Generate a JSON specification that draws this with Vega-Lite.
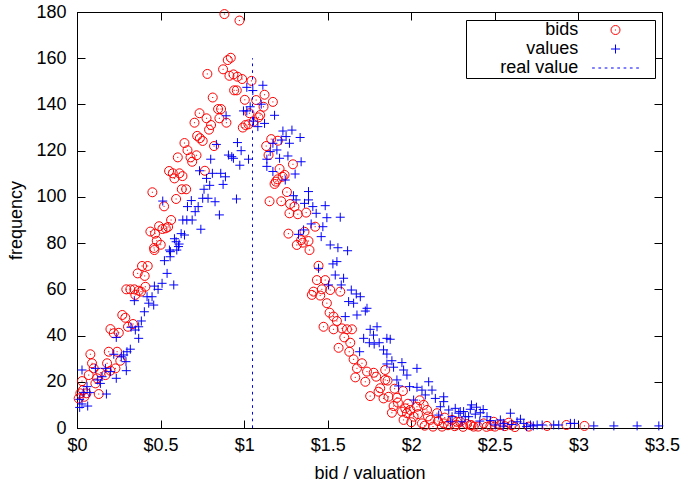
{
  "$schema": "https://vega.github.io/schema/vega-lite/v6.json",
  "width": 585,
  "height": 416,
  "autosize": {"type": "none"},
  "padding": {"left": 77, "top": 12, "right": 20, "bottom": 58},
  "config": {
    "view": {"stroke": "black", "strokeWidth": 1},
    "font": "Liberation Sans",
    "axis": {
      "grid": false,
      "domainColor": "black",
      "tickColor": "black",
      "labelColor": "black",
      "titleColor": "black",
      "labelFont": "Liberation Sans",
      "titleFont": "Liberation Sans",
      "labelFontSize": 18,
      "titleFontSize": 18,
      "titleFontWeight": "normal",
      "tickSize": -8,
      "labelFlush": false,
      "labelOverlap": false,
      "labelBound": false
    }
  },
  "datasets": {
    "bids": [
      {"x":0.882,"y":179.1},{"x":0.972,"y":176.3},{"x":0.920,"y":160.2},{"x":0.902,"y":159.2},{"x":0.874,"y":155.2},{"x":0.780,"y":153.2},{"x":0.912,"y":152.4},{"x":0.936,"y":153},{"x":0.960,"y":152},{"x":0.988,"y":151},{"x":0.940,"y":146.1},{"x":0.956,"y":146.1},{"x":0.812,"y":143},{"x":1.004,"y":142},{"x":0.844,"y":138},{"x":0.862,"y":138},{"x":0.733,"y":136.2},{"x":0.775,"y":134},{"x":0.852,"y":134},{"x":0.703,"y":132.1},{"x":0.894,"y":132.1},{"x":0.802,"y":131.1},{"x":0.790,"y":129.1},{"x":1.008,"y":131.1},{"x":0.992,"y":130},{"x":0.719,"y":126.4},{"x":0.735,"y":125.4},{"x":0.752,"y":124.2},{"x":0.643,"y":123.3},{"x":0.820,"y":122},{"x":0.661,"y":120.2},{"x":0.715,"y":118},{"x":0.679,"y":117.1},{"x":0.603,"y":117.1},{"x":0.689,"y":115.2},{"x":0.765,"y":111.3},{"x":0.551,"y":111.2},{"x":0.573,"y":110.2},{"x":0.613,"y":110.2},{"x":0.583,"y":108},{"x":0.631,"y":109},{"x":0.627,"y":103.3},{"x":0.653,"y":103.3},{"x":0.451,"y":102},{"x":0.593,"y":99.1},{"x":0.521,"y":95.9},{"x":0.563,"y":90},{"x":0.491,"y":87.3},{"x":0.511,"y":86.1},{"x":0.531,"y":86.4},{"x":0.545,"y":87},{"x":0.439,"y":85},{"x":0.467,"y":84.1},{"x":0.477,"y":81},{"x":0.501,"y":79.3},{"x":0.461,"y":77.9},
      {"x":1.044,"y":150.2},{"x":1.122,"y":144.2},{"x":1.072,"y":141.9},{"x":1.172,"y":141.1},{"x":1.116,"y":139},{"x":1.032,"y":136.2},{"x":1.096,"y":135.4},{"x":1.086,"y":134.4},{"x":1.056,"y":132.5},{"x":1.026,"y":131.4},{"x":1.162,"y":125},{"x":1.202,"y":124.3},{"x":1.132,"y":122},{"x":1.146,"y":118.1},{"x":1.292,"y":114.1},{"x":1.212,"y":112.1},{"x":1.242,"y":109.5},{"x":1.230,"y":108.7},{"x":1.200,"y":107.6},{"x":1.190,"y":106.6},{"x":1.182,"y":105.6},{"x":1.256,"y":102.1},{"x":1.152,"y":98.1},{"x":1.222,"y":98.1},{"x":1.275,"y":96.9},{"x":1.301,"y":95.8},{"x":1.271,"y":92.9},{"x":1.321,"y":92.5},{"x":1.371,"y":93.2},{"x":1.425,"y":87.1},{"x":1.265,"y":84.1},{"x":1.361,"y":84.9},{"x":1.341,"y":81.3},{"x":1.385,"y":80.9},{"x":1.351,"y":80.2},{"x":1.315,"y":79.2},{"x":1.391,"y":77},
      {"x":1.445,"y":70.2},{"x":1.435,"y":64},{"x":1.485,"y":64},{"x":1.465,"y":60},{"x":1.515,"y":59.7},{"x":1.575,"y":59},{"x":1.415,"y":59},{"x":1.405,"y":57.6},{"x":1.455,"y":57.3},{"x":1.495,"y":54},{"x":1.511,"y":49.9},{"x":1.535,"y":48.2},{"x":1.555,"y":46.3},{"x":1.475,"y":43.8},{"x":1.535,"y":42.7},{"x":1.585,"y":43.1},{"x":1.615,"y":42.7},{"x":1.645,"y":42.7},{"x":1.599,"y":39.2},{"x":1.635,"y":36.9},{"x":1.565,"y":34.7},{"x":1.629,"y":33},{"x":1.655,"y":29.7},{"x":1.705,"y":28},{"x":1.675,"y":25.8},{"x":1.735,"y":24.4},{"x":1.775,"y":23.9},{"x":1.844,"y":25.1},{"x":1.665,"y":21.9},{"x":1.725,"y":20},{"x":1.790,"y":22.2},{"x":1.858,"y":20.5},{"x":1.754,"y":13.8},{"x":1.804,"y":15.7},{"x":1.834,"y":12.8},{"x":1.864,"y":13.5},{"x":1.914,"y":13.1},{"x":1.894,"y":9.5},{"x":1.884,"y":6.6},{"x":1.944,"y":7.1},{"x":1.964,"y":8.5},{"x":1.994,"y":7.8},{"x":2.034,"y":9.2},{"x":2.074,"y":10},{"x":2.094,"y":7.8},{"x":2.014,"y":4.9},{"x":2.064,"y":2},{"x":2.114,"y":3.5},{"x":2.154,"y":6.4},{"x":2.194,"y":2},{"x":2.244,"y":3.5},{"x":2.293,"y":2.7},{"x":2.333,"y":1.7},{"x":1.954,"y":3.5},{"x":1.974,"y":6.4},{"x":2.130,"y":0.6},{"x":2.184,"y":0.6},
      {"x":1.92,"y":11},{"x":1.98,"y":10.5},{"x":2.04,"y":6},{"x":2.1,"y":5},{"x":2.16,"y":3},{"x":2.22,"y":1.2},{"x":2.27,"y":1.5},{"x":2.05,"y":12},{"x":1.9,"y":17},{"x":1.95,"y":16},{"x":2.0,"y":2.5},{"x":2.08,"y":1},{"x":2.2,"y":4.5},{"x":2.26,"y":0.8},{"x":2.31,"y":0.5},{"x":2.36,"y":1.2},{"x":2.4,"y":0.6},{"x":1.814,"y":17.2},{"x":1.844,"y":20.8},
      {"x":0.463,"y":77},{"x":0.423,"y":70.1},{"x":0.389,"y":70.1},{"x":0.363,"y":66.9},{"x":0.405,"y":65.8},{"x":0.409,"y":61.1},{"x":0.295,"y":60},{"x":0.319,"y":60},{"x":0.343,"y":60},{"x":0.369,"y":59.4},{"x":0.349,"y":57.6},{"x":0.383,"y":59},{"x":0.271,"y":48.9},{"x":0.289,"y":47.7},{"x":0.335,"y":45},{"x":0.305,"y":43.8},{"x":0.200,"y":42.8},{"x":0.220,"y":41},{"x":0.250,"y":41.2},{"x":0.080,"y":31.9},{"x":0.190,"y":33},{"x":0.240,"y":33},{"x":0.259,"y":29.1},{"x":0.090,"y":28},{"x":0.180,"y":28},{"x":0.100,"y":25.8},{"x":0.230,"y":25.8},{"x":0.200,"y":24.8},{"x":0.140,"y":23.9},{"x":0.070,"y":22.9},{"x":0.170,"y":22.9},{"x":0.120,"y":21.5},{"x":0.030,"y":20.3},{"x":0.110,"y":19.3},{"x":0.036,"y":16.4},{"x":0.056,"y":15},{"x":0.130,"y":14.7},{"x":0.020,"y":15},{"x":0.044,"y":13.5},{"x":0.010,"y":12.8},
      {"x":2.583,"y":2.3},{"x":2.703,"y":0.6},{"x":2.812,"y":0.9},{"x":2.928,"y":1.3},{"x":3.036,"y":0.9},{"x":2.493,"y":2.7},{"x":2.533,"y":1.3},{"x":2.373,"y":0.6},{"x":2.273,"y":2.7},{"x":2.353,"y":1.3},{"x":2.433,"y":2},{"x":2.473,"y":0.9},{"x":2.45,"y":0.5},{"x":2.5,"y":0.6},{"x":2.56,"y":0.8},{"x":2.6,"y":1.2},{"x":2.62,"y":0.4}
    ],
    "values": [
      {"x":1.016,"y":147.4},{"x":0.996,"y":137.2},{"x":0.892,"y":135.1},{"x":1.016,"y":137.2},{"x":0.834,"y":122.7},{"x":0.960,"y":123.5},{"x":0.982,"y":120},{"x":0.906,"y":118.1},{"x":0.926,"y":117.4},{"x":0.936,"y":116.7},{"x":0.800,"y":116.3},{"x":0.974,"y":113.7},{"x":0.733,"y":111.3},{"x":0.810,"y":110.2},{"x":0.860,"y":110.2},{"x":0.888,"y":108.7},{"x":0.775,"y":108},{"x":0.794,"y":105},{"x":0.874,"y":105.4},{"x":0.760,"y":103.3},{"x":0.752,"y":99.4},{"x":0.784,"y":99.4},{"x":0.826,"y":97.9},{"x":0.954,"y":99.1},{"x":0.513,"y":98.2},{"x":0.684,"y":98.4},{"x":0.661,"y":95.8},{"x":0.725,"y":95.8},{"x":0.707,"y":93.6},{"x":0.852,"y":92.2},{"x":0.633,"y":90},{"x":0.657,"y":90},{"x":0.689,"y":90},{"x":0.741,"y":86},{"x":0.623,"y":84.1},{"x":0.643,"y":83.5},{"x":0.583,"y":81.9},{"x":0.611,"y":79.6},{"x":0.553,"y":77},{"x":0.597,"y":77},
      {"x":1.112,"y":148.3},{"x":1.052,"y":146},{"x":1.102,"y":140.1},{"x":1.036,"y":139},{"x":1.182,"y":135.3},{"x":1.056,"y":132.8},{"x":1.122,"y":131.8},{"x":1.082,"y":130.4},{"x":1.232,"y":128.5},{"x":1.286,"y":128.9},{"x":1.251,"y":126.1},{"x":1.335,"y":125.7},{"x":1.222,"y":124.6},{"x":1.271,"y":123.2},{"x":1.172,"y":123.2},{"x":1.196,"y":120.3},{"x":1.156,"y":119.6},{"x":1.262,"y":117.7},{"x":1.212,"y":116.7},{"x":1.341,"y":115.2},{"x":1.026,"y":116.3},{"x":1.136,"y":116.3},{"x":1.136,"y":113.2},{"x":1.172,"y":111},{"x":1.305,"y":109.9},{"x":1.246,"y":107.3},{"x":1.295,"y":100.5},{"x":1.385,"y":102.3},{"x":1.311,"y":98.7},{"x":1.361,"y":97.2},{"x":1.385,"y":98.7},{"x":1.411,"y":95.8},{"x":1.485,"y":96.2},{"x":1.431,"y":92.9},{"x":1.495,"y":91},{"x":1.575,"y":91.2},{"x":1.401,"y":88.3},{"x":1.471,"y":87.1},{"x":1.355,"y":85.7},{"x":1.325,"y":83.8},{"x":1.461,"y":82.8},{"x":1.515,"y":79.2},{"x":1.561,"y":78},{"x":1.619,"y":76.7},
      {"x":1.505,"y":61.9},{"x":1.581,"y":61.9},{"x":1.641,"y":59.7},{"x":1.671,"y":58},{"x":1.695,"y":56.8},{"x":1.545,"y":66.2},{"x":1.595,"y":64.8},{"x":1.531,"y":71},{"x":1.555,"y":72},{"x":1.445,"y":69.1},
      {"x":1.625,"y":54.7},{"x":1.655,"y":54},{"x":1.735,"y":51.8},{"x":1.725,"y":50.6},{"x":1.675,"y":48.9},{"x":1.605,"y":48.2},{"x":1.795,"y":43.8},{"x":1.754,"y":42.7},{"x":1.774,"y":40.2},{"x":1.715,"y":38.8},{"x":1.854,"y":38.8},{"x":1.874,"y":38.4},{"x":1.749,"y":36.9},{"x":1.778,"y":36.3},{"x":1.808,"y":36.9},{"x":1.834,"y":33.8},{"x":1.691,"y":33},{"x":1.854,"y":32},{"x":1.884,"y":29.1},{"x":1.944,"y":28.3},{"x":1.854,"y":27.7},{"x":1.894,"y":26.3},{"x":1.954,"y":25.1},{"x":2.034,"y":25.8},{"x":1.974,"y":22.9},{"x":1.914,"y":20.8},{"x":1.924,"y":18.2},{"x":1.990,"y":17.9},{"x":2.034,"y":17.6},{"x":2.104,"y":20},{"x":2.124,"y":16.4},{"x":2.064,"y":16.4},{"x":2.084,"y":14.3},{"x":2.144,"y":12.8},{"x":2.194,"y":13.5},{"x":2.194,"y":11.4},{"x":2.014,"y":12.1},{"x":2.174,"y":9.2},{"x":2.224,"y":7.8},{"x":2.263,"y":8.5},{"x":2.284,"y":6.4},{"x":2.313,"y":7.1},{"x":2.343,"y":4.9},{"x":2.244,"y":4.9},{"x":2.164,"y":5.6},{"x":2.234,"y":2.7},{"x":2.303,"y":2.7},
      {"x":2.293,"y":7.1},{"x":2.353,"y":8.1},{"x":2.413,"y":6.6},{"x":2.383,"y":6},{"x":2.323,"y":4.9},{"x":2.593,"y":6.4},{"x":2.653,"y":3.8},{"x":2.633,"y":2.7},{"x":2.533,"y":3.5},{"x":2.553,"y":2},{"x":2.473,"y":3.2},{"x":2.453,"y":4.9},{"x":2.503,"y":1.3},{"x":2.713,"y":1.3},{"x":2.753,"y":1.3},{"x":2.783,"y":1.3},{"x":2.852,"y":1.3},{"x":2.882,"y":1.3},{"x":2.952,"y":2},{"x":2.976,"y":2},{"x":3.092,"y":0.9},{"x":3.212,"y":0.9},{"x":3.351,"y":0.9},{"x":3.481,"y":0.9},{"x":2.673,"y":2},
      {"x":2.39,"y":9},{"x":2.43,"y":8},{"x":2.36,"y":10},{"x":2.41,"y":3},{"x":2.55,"y":0.8},{"x":2.6,"y":1.5},{"x":2.69,"y":0.6},{"x":2.73,"y":0.9},
      {"x":0.559,"y":76.3},{"x":0.523,"y":72.4},{"x":0.539,"y":66.9},{"x":0.509,"y":62.6},{"x":0.579,"y":61.9},{"x":0.463,"y":61.4},{"x":0.485,"y":60},{"x":0.419,"y":56.8},{"x":0.449,"y":56.8},{"x":0.343,"y":55.1},{"x":0.429,"y":54},{"x":0.459,"y":53.2},{"x":0.403,"y":50.3},{"x":0.385,"y":46.3},{"x":0.369,"y":43.8},{"x":0.323,"y":43.6},{"x":0.349,"y":42.4},{"x":0.369,"y":38.8},{"x":0.235,"y":39.2},{"x":0.319,"y":34.1},{"x":0.299,"y":33},{"x":0.279,"y":31.6},{"x":0.265,"y":30.8},{"x":0.220,"y":31.9},{"x":0.293,"y":28.7},{"x":0.295,"y":24.8},{"x":0.200,"y":24.4},{"x":0.170,"y":25.8},{"x":0.110,"y":25.8},{"x":0.030,"y":25.1},{"x":0.150,"y":22.2},{"x":0.124,"y":20.8},{"x":0.235,"y":21.5},{"x":0.140,"y":19.3},{"x":0.060,"y":17.9},{"x":0.176,"y":14.7},{"x":0.040,"y":15.3},{"x":0.076,"y":15.3},{"x":0.016,"y":12.4},{"x":0.030,"y":10.4},{"x":0.064,"y":9.5},{"x":0.016,"y":8.9},
      {"x":0.593,"y":80.6},{"x":0.607,"y":78.5},{"x":0.557,"y":74.1}
    ],
    "real": [{"x": 1.05, "y": 0, "y2": 160}]
  },
  "layer": [
    {
      "data": {"name": "bids"},
      "mark": {"type": "point", "filled": false, "size": 324, "strokeWidth": 1, "opacity": 1},
      "encoding": {
        "x": {
          "field": "x", "type": "quantitative",
          "scale": {"domain": [0, 3.5], "nice": false, "zero": false},
          "axis": {"orient": "bottom", "values": [0, 0.5, 1, 1.5, 2, 2.5, 3, 3.5], "labelExpr": "'$' + datum.value", "title": "bid / valuation", "labelPadding": 16, "titleY": 50, "titleBaseline": "alphabetic"}
        },
        "y": {
          "field": "y", "type": "quantitative",
          "scale": {"domain": [0, 180], "nice": false},
          "axis": {"orient": "left", "values": [0, 20, 40, 60, 80, 100, 120, 140, 160, 180], "title": "frequency", "labelPadding": 19, "titleX": -56, "titleBaseline": "alphabetic"}
        },
        "color": {
          "datum": "bids", "type": "nominal",
          "scale": {"domain": ["bids", "values", "real value"], "range": ["#ff0000", "#0000ff", "#0000ff"]},
          "legend": {"orient": "none", "legendX": 389, "legendY": 8, "title": null, "strokeColor": "black", "fillColor": "white", "padding": 0.5, "labelFont": "Liberation Sans", "labelFontSize": 18, "labelColor": "black", "labelAlign": "right", "labelOffset": -46.8, "symbolOffset": 139.5, "symbolSize": 324, "symbolStrokeWidth": 1, "rowPadding": 0}
        },
        "shape": {
          "datum": "bids", "type": "nominal",
          "scale": {"domain": ["bids", "values", "real value"], "range": [
            "M-16.5,0M4.06,0M0.5,0C0.5,0.2761,0.2761,0.5,0,0.5C-0.2761,0.5,-0.5,0.2761,-0.5,0C-0.5,-0.2761,-0.2761,-0.5,0,-0.5C0.2761,-0.5,0.5,-0.2761,0.5,0ZM-0.06,0L0.06,0",
            "M-16.5,0M4.06,0M-0.5,0L0.5,0M0,-0.5L0,0.5",
            "M-16.5,0M4.06,0M-2.6,0L-2.3,0M-1.9,0L-1.6,0M-1.2,0L-0.9,0M-0.5,0L-0.2,0M0.2,0L0.5,0M0.9,0L1.2,0M1.6,0L1.9,0M2.3,0L2.6,0"
          ]},
          "legend": {"orient": "none", "legendX": 389, "legendY": 8, "title": null, "strokeColor": "black", "fillColor": "white", "padding": 0.5, "labelFont": "Liberation Sans", "labelFontSize": 18, "labelColor": "black", "labelAlign": "right", "labelOffset": -46.8, "symbolOffset": 139.5, "symbolSize": 324, "symbolStrokeWidth": 1, "rowPadding": 0}
        }
      }
    },
    {
      "data": {"name": "values"},
      "mark": {"type": "point", "filled": false, "size": 324, "strokeWidth": 1, "opacity": 1},
      "encoding": {
        "x": {
          "field": "x", "type": "quantitative",
          "axis": {"orient": "top", "values": [0, 0.5, 1, 1.5, 2, 2.5, 3, 3.5], "labels": false, "title": null}
        },
        "y": {
          "field": "y", "type": "quantitative",
          "axis": {"orient": "right", "values": [0, 20, 40, 60, 80, 100, 120, 140, 160, 180], "labels": false, "title": null}
        },
        "color": {"datum": "values", "type": "nominal"},
        "shape": {"datum": "values", "type": "nominal"}
      }
    },
    {
      "data": {"name": "real"},
      "mark": {"type": "rule", "strokeDash": [2.7, 4], "strokeWidth": 1},
      "encoding": {
        "x": {"field": "x", "type": "quantitative", "axis": null},
        "y": {"field": "y", "type": "quantitative", "axis": null},
        "y2": {"field": "y2"},
        "color": {"datum": "real value", "type": "nominal"}
      }
    }
  ]
}
